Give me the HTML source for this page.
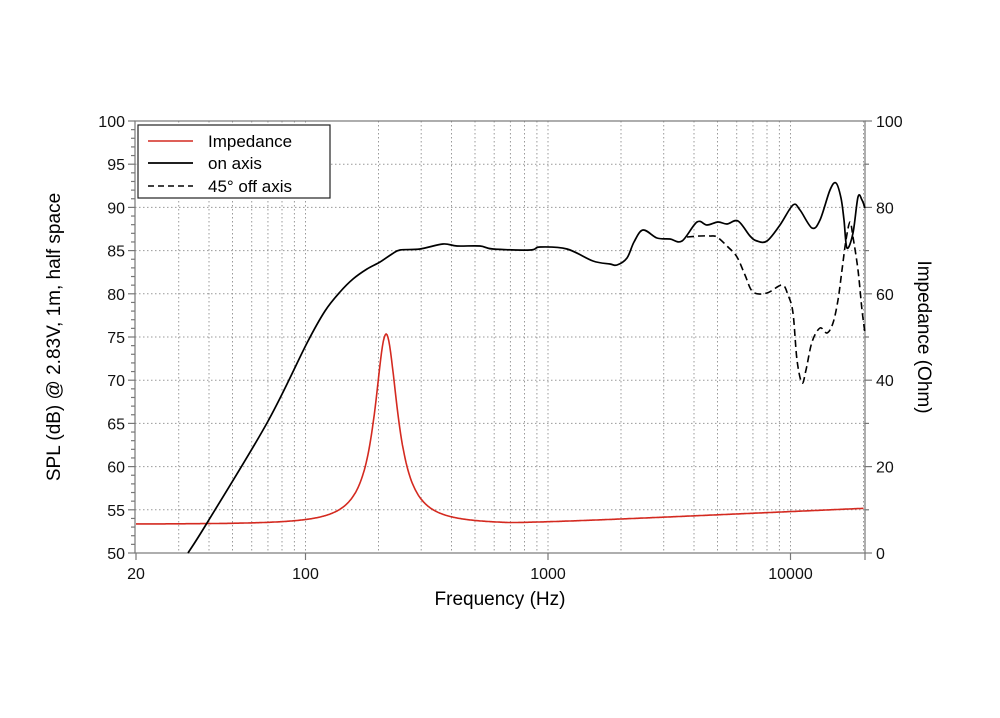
<!DOCTYPE html>
<html><head><meta charset="utf-8"><style>
body{margin:0;background:#fff;}
svg{display:block;font-family:"Liberation Sans",Arial,sans-serif;}
</style></head><body>
<svg id="s" width="1000" height="718" viewBox="0 0 1000 718" xmlns="http://www.w3.org/2000/svg">
<g id="grid" stroke="#999" stroke-width="1" stroke-dasharray="1.5,2.5" fill="none"></g>
<g id="axes" stroke="#777" stroke-width="1.2" fill="none"></g>
<g id="labels" font-size="16" fill="#111"></g>
<path id="imp" fill="none" stroke="#d42a20" stroke-width="1.6"/>
<path id="on" fill="none" stroke="#000" stroke-width="1.7"/>
<path id="off" fill="none" stroke="#000" stroke-width="1.6" stroke-dasharray="7,4"/>
<rect x="138" y="125" width="192" height="73" fill="#fff" stroke="#222" stroke-width="1.2"/>
<line x1="148" y1="141" x2="193" y2="141" stroke="#d42a20" stroke-width="1.6"/>
<line x1="148" y1="163" x2="193" y2="163" stroke="#000" stroke-width="1.7"/>
<line x1="148" y1="186" x2="193" y2="186" stroke="#000" stroke-width="1.6" stroke-dasharray="6,4"/>
<text x="208" y="147" font-size="17">Impedance</text>
<text x="208" y="169" font-size="17">on axis</text>
<text x="208" y="192" font-size="17">45° off axis</text>
<text x="500" y="605" font-size="19" text-anchor="middle">Frequency (Hz)</text>
<text transform="translate(60,337) rotate(-90)" font-size="19" text-anchor="middle">SPL (dB) @ 2.83V, 1m, half space</text>
<text transform="translate(918,337) rotate(90)" font-size="19" text-anchor="middle">Impedance (Ohm)</text>
</svg>
<script>
const L=135,R=865,T=121,B=553;
const X=f=>548+242.5*Math.log10(f/1000);
const Yd=d=>B-(d-50)*8.64;
const Yo=o=>B-o*4.32;
const ns="http://www.w3.org/2000/svg";
function el(p,t,a,txt){const e=document.createElementNS(ns,t);for(const k in a)e.setAttribute(k,a[k]);if(txt!==undefined)e.textContent=txt;document.getElementById(p).appendChild(e);}
for(let dec=10;dec<=10000;dec*=10)for(let m=1;m<10;m++){const f=dec*m;if(f<=20||f>20000)continue;const x=X(f);if(x>=R-1)continue;el("grid","line",{x1:x,y1:T,x2:x,y2:B});}
for(let d=55;d<100;d+=5)el("grid","line",{x1:L,y1:Yd(d),x2:R,y2:Yd(d)});
el("axes","rect",{x:L,y:T,width:R-L,height:B-T});
for(let d=50;d<=100;d++){const y=Yd(d);const len=d%5==0?7:4;el("axes","line",{x1:L-len,y1:y,x2:L,y2:y});}
for(let d=50;d<=100;d+=5)el("labels","text",{x:L-10,y:Yd(d)+6,"text-anchor":"end"},d);
for(let o=0;o<=100;o+=20){el("axes","line",{x1:R,y1:Yo(o),x2:R+7,y2:Yo(o)});el("labels","text",{x:R+11,y:Yo(o)+6},o);}
for(let o=10;o<100;o+=20)el("axes","line",{x1:R,y1:Yo(o),x2:R+4,y2:Yo(o)});
[[20,"20"],[100,"100"],[1000,"1000"],[10000,"10000"]].forEach(([f,t])=>{el("axes","line",{x1:X(f),y1:B,x2:X(f),y2:B+7});el("labels","text",{x:X(f),y:B+26,"text-anchor":"middle"},t);});
el("axes","line",{x1:R,y1:B,x2:R,y2:B+7});
let d="";for(let i=0;i<=800;i++){const f=20*Math.pow(1000,i/800);const q=3.8*(f/215-215/f);const base=6.7+Math.max(0,Math.log10(f/700))*2.5;const z=base+44/(1+q*q);d+=(i?"L":"M")+X(f).toFixed(1)+","+Yo(z).toFixed(1);}
document.getElementById("imp").setAttribute("d",d);
function cr(pts){let s="M"+pts[0][0]+","+pts[0][1];for(let i=0;i<pts.length-1;i++){const p0=pts[i-1]||pts[i],p1=pts[i],p2=pts[i+1],p3=pts[i+2]||p2;s+=`C${p1[0]+(p2[0]-p0[0])/6},${p1[1]+(p2[1]-p0[1])/6} ${p2[0]-(p3[0]-p1[0])/6},${p2[1]-(p3[1]-p1[1])/6} ${p2[0]},${p2[1]}`;}return s;}
const on=[[188,553],[207,523],[267,423],[307,343],[325,311],[340,292],[353,279],[367,269],[380,262],[392,254],[400,250],[420,249],[443,244],[457,246],[480,246],[493,249],[530,250],[540,247],[567,249],[593,261],[610,264],[617,265],[627,258],[634,242],[643,230],[657,238],[670,239],[682,241],[697,222],[707,225],[718,222],[727,224],[738,221],[750,236],[757,241],[767,241],[780,225],[793,205],[800,210],[812,228],[820,220],[830,190],[836,183],[841,198],[844,220],[847,248],[853,233],[858,197],[862,200],[865,208]];
document.getElementById("on").setAttribute("d",cr(on));
const off=[[687,237],[700,236],[710,236],[717,237],[728,247],[737,257],[745,275],[753,292],[767,293],[782,285],[788,295],[793,313],[797,360],[802,383],[806,370],[812,342],[820,328],[827,333],[833,323],[838,300],[842,270],[846,240],[850,222],[853,237],[858,270],[862,310],[865,333]];
document.getElementById("off").setAttribute("d",cr(off));
</script>
</body></html>
